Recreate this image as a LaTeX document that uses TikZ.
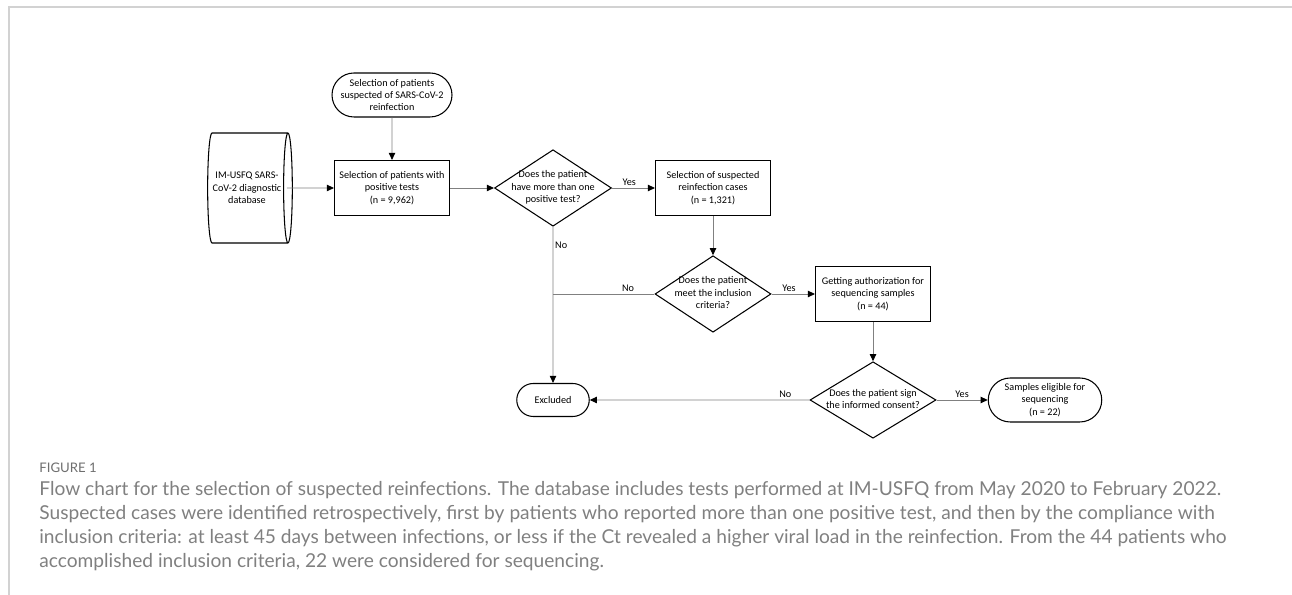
\documentclass[tikz,border=0pt]{standalone}
\usepackage{fontspec}
\setmainfont{Carlito}
\newfontfamily\capfont{Lato}
\usetikzlibrary{shapes.geometric,shapes.misc,arrows.meta}
\definecolor{linegray}{RGB}{128,128,128}
\definecolor{framegray}{RGB}{210,210,210}
\definecolor{capgray}{RGB}{128,128,128}
\definecolor{figgray}{RGB}{110,110,110}
% text of a decision, kept out of the size of the diamond
\newcommand{\dtext}[1]{\makebox[0pt]{\smash{\raisebox{-1.4pt}{\begin{tabular}{@{}c@{}}#1\end{tabular}}}}}
\begin{document}
\begin{tikzpicture}[node distance=3.2cm, auto, font=\fontsize{5.8}{7}\selectfont]
  % Define block styles
  \tikzstyle{block} = [rectangle, draw, line width=0.6pt, align=center, minimum width=2.3cm, minimum height=1.1cm, inner sep=1pt]
  \tikzstyle{decision} = [diamond, draw, line width=0.6pt, inner sep=0pt, minimum width=2.34cm, minimum height=1.53cm]
  \tikzstyle{terminal} = [rounded rectangle, draw, line width=0.6pt, align=center, minimum width=2.3cm, minimum height=0.88cm, inner sep=1pt]
  \tikzstyle{database} = [cylinder, draw, line width=0.6pt, align=center, aspect=0.25, minimum width=2.2cm, minimum height=1.12cm, inner sep=1pt]
  \tikzstyle{line} = [draw, linegray, line width=0.5pt, -{Triangle[black, length=4pt, width=3.6pt]}]
  \tikzstyle{plain} = [draw, linegray, line width=0.5pt]
  \tikzstyle{answer} = [text=black, inner sep=1pt]

  \useasboundingbox (0,0) rectangle (25.84,11.9);
  % Frame
  \draw [framegray, line width=1pt] (0.18,0) -- (0.18,11.76) -- (25.84,11.76);

  % Place blocks
  \node [block] at (7.84,8.14) (positive) {Selection of patients with\\positive tests\\(n = 9,962)};
  \node [database, left of=positive, node distance=2.9cm] (db) {IM-USFQ SARS-\\CoV-2 diagnostic\\database};
  \node [terminal, above of=positive, node distance=1.86cm] (suspect) {Selection of patients\\suspected of SARS-CoV-2\\reinfection};
  \node [decision, right of=positive, node distance=3.22cm] (morethan) {\dtext{Does the patient\\have more than one\\positive test?}};
  \node [block, right of=morethan] (cases) {Selection of suspected\\reinfection cases\\(n = 1,321)};
  \node [decision, below of=cases, node distance=2.12cm, minimum width=2.32cm] (criteria) {\dtext{Does the patient\\meet the inclusion\\criteria?}};
  \node [block, right of=criteria] (authorization) {Getting authorization for\\sequencing samples\\(n = 44)};
  \node [decision, below of=authorization, node distance=2.12cm, minimum width=2.52cm] (consent) {\dtext{Does the patient sign\\the informed consent?}};
  \node [terminal, right of=consent, node distance=3.44cm, minimum width=2.34cm] (eligible) {Samples eligible for\\sequencing\\(n = 22)};
  \node [terminal, below of=morethan, node distance=4.24cm, minimum width=1.52cm, minimum height=0.66cm] (excluded) {Excluded};
  \coordinate (join) at (morethan |- criteria);

  % Draw lines
  \path [line] ([xshift=-0.12cm]db.east) -- (positive);
  \path [line] (suspect) -- (positive);
  \path [line] (positive) -- (morethan);
  \path [line] (morethan) -- node [answer, pos=0.4] {Yes} (cases);
  \path [line] (morethan) -- node [answer, pos=0.12] {No} (excluded);
  \path [line] (cases) -- (criteria);
  \path [plain] (criteria) -- node [answer, swap, pos=0.26] {No} (join);
  \path [line] (criteria) -- node [answer, pos=0.4] {Yes} (authorization);
  \path [line] (authorization) -- (consent);
  \path [line] (consent) -- node [answer, pos=0.5] {Yes} (eligible);
  \path [line] (consent) -- node [answer, swap, pos=0.11] {No} (excluded);

  % Caption
  \node [anchor=west, text=figgray, font=\capfont\fontsize{7.5}{9}\selectfont, inner sep=0pt] (figlabel) at (0.78,2.54) {FIGURE 1};
  \node [anchor=north west, text=capgray, font=\capfont\fontsize{10.9}{13.6}\selectfont, align=left, inner sep=0pt] (caption) at (0.78,2.28) {Flow chart for the selection of suspected reinfections. The database includes tests performed at IM-USFQ from May 2020 to February 2022.\\Suspected cases were identified retrospectively, first by patients who reported more than one positive test, and then by the compliance with\\inclusion criteria: at least 45 days between infections, or less if the Ct revealed a higher viral load in the reinfection. From the 44 patients who\\accomplished inclusion criteria, 22 were considered for sequencing.};
\end{tikzpicture}
\end{document}
